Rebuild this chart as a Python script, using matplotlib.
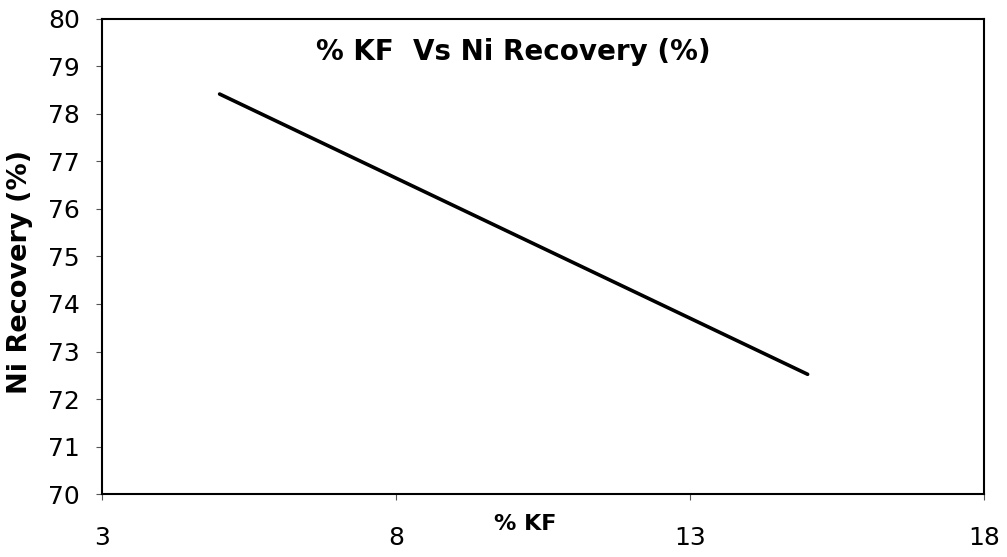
import matplotlib
matplotlib.use("Agg")
import matplotlib.pyplot as plt

# Data
kf_percent = [5, 10, 15]
ni_recovery = [78.42, 75.47, 72.52]
x_ticks = [3, 8, 13, 18]
y_ticks = [70, 71, 72, 73, 74, 75, 76, 77, 78, 79, 80]

plt.rcParams['font.family'] = ['DejaVu Sans']

fig = plt.figure(figsize=(10.07, 5.57), dpi=100)
ax = fig.add_axes([0.1013, 0.1131, 0.8759, 0.8528])

ax.plot(kf_percent, ni_recovery, color='black', lw=2.6, solid_capstyle='round')

ax.set_xlim(3, 18)
ax.set_ylim(70, 80)
ax.set_xticks(x_ticks)
ax.set_yticks(y_ticks)
ax.tick_params(axis='both', labelsize=18, color='#555555', width=0.8, length=4)
ax.tick_params(axis='x', pad=19)
ax.tick_params(axis='y', pad=12)

for sp in ax.spines.values():
    sp.set_linewidth(1.5)
    sp.set_color('black')

ax.text(0.466, 0.93, '% KF  Vs Ni Recovery (%)', transform=ax.transAxes,
        ha='center', va='center', fontsize=20, fontweight='bold')

ax.set_xlabel('% KF', fontsize=16, fontweight='bold')
ax.xaxis.set_label_coords(0.48, -0.063)
ax.xaxis.label.set_va('center')

ax.set_ylabel('Ni Recovery (%)', fontsize=19.5, fontweight='bold')
ax.yaxis.set_label_coords(-0.093, 0.467)
ax.yaxis.label.set_va('center')

fig.savefig('out.png', dpi=100)
